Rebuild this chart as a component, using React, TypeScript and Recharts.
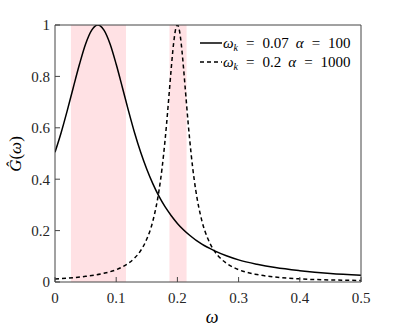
import { LineChart, Line, XAxis, YAxis, ReferenceArea } from 'recharts'

const solidW = [0, 0.01, 0.02, 0.03, 0.04, 0.05, 0.06, 0.07, 0.08, 0.09, 0.1, 0.11, 0.12, 0.13, 0.14, 0.15, 0.16, 0.17, 0.18, 0.19, 0.2, 0.22, 0.24, 0.26, 0.28, 0.3, 0.33, 0.36, 0.4, 0.45, 0.5]
const solidG = [0.505, 0.581, 0.667, 0.758, 0.847, 0.926, 0.98, 1, 0.98, 0.926, 0.847, 0.758, 0.667, 0.581, 0.505, 0.439, 0.382, 0.333, 0.292, 0.258, 0.228, 0.182, 0.147, 0.122, 0.102, 0.086, 0.069, 0.056, 0.044, 0.033, 0.026]

const dashW = [0, 0.05, 0.08, 0.1, 0.12, 0.13, 0.14, 0.15, 0.16, 0.17, 0.175, 0.18, 0.1825, 0.185, 0.1875, 0.19, 0.1925, 0.195, 0.1975, 0.2, 0.2025, 0.205, 0.2075, 0.21, 0.2125, 0.215, 0.2175, 0.22, 0.225, 0.23, 0.24, 0.25, 0.26, 0.27, 0.28, 0.3, 0.33, 0.36, 0.4, 0.45, 0.5]
const dashG = [0.012, 0.022, 0.034, 0.048, 0.073, 0.093, 0.122, 0.167, 0.238, 0.357, 0.444, 0.556, 0.62, 0.69, 0.762, 0.833, 0.899, 0.952, 0.988, 1, 0.988, 0.952, 0.899, 0.833, 0.762, 0.69, 0.62, 0.556, 0.444, 0.357, 0.238, 0.167, 0.122, 0.093, 0.073, 0.048, 0.029, 0.019, 0.012, 0.008, 0.006]

const bands = [
  [0.026, 0.116],
  [0.187, 0.215]
]

const xTicks = [0, 0.1, 0.2, 0.3, 0.4, 0.5]
const yTicks = [0, 0.2, 0.4, 0.6, 0.8, 1]

const series = [
  { name: 'solid', k: '0.07', a: '100', dash: undefined },
  { name: 'dash', k: '0.2', a: '1000', dash: '4 3' }
]

const solidData = solidW.map((w, i) => ({ w, g: solidG[i] }))
const dashData = dashW.map((w, i) => ({ w, g: dashG[i] }))

const FONT = "'Liberation Serif', 'Times New Roman', 'DejaVu Serif', serif"
const AXIS = '#444'
const tickStyle = { fontFamily: FONT, fontSize: 15, fill: '#262626' }

export default function App() {
  return (
    <div style={{ position: 'relative', width: 399, height: 332, background: '#fff', fontFamily: FONT }}>
      <style>{'body{margin:0}'}</style>
      <LineChart width={399} height={332} margin={{ top: 24, right: 37, bottom: 0, left: 0 }}>
        {bands.map(([a, b], i) => (
          <ReferenceArea key={i} x1={a} x2={b} y1={0} y2={1} fill="#ffe1e4" fillOpacity={1} stroke="none" />
        ))}
        <XAxis
          dataKey="w"
          type="number"
          domain={[0, 0.5]}
          ticks={xTicks}
          tickFormatter={(v) => String(v)}
          height={50}
          tickSize={-5}
          tickMargin={15}
          tick={tickStyle}
          stroke={AXIS}
          allowDataOverflow
        />
        <XAxis
          xAxisId="top"
          dataKey="w"
          orientation="top"
          type="number"
          domain={[0, 0.5]}
          ticks={xTicks}
          height={1}
          tick={false}
          tickSize={-5}
          stroke={AXIS}
          allowDataOverflow
        />
        <YAxis
          type="number"
          domain={[0, 1]}
          ticks={yTicks}
          tickFormatter={(v) => String(v)}
          width={55}
          tickSize={-5}
          tickMargin={10}
          tick={tickStyle}
          stroke={AXIS}
          allowDataOverflow
        />
        <YAxis
          yAxisId="right"
          orientation="right"
          type="number"
          domain={[0, 1]}
          ticks={yTicks}
          width={1}
          tick={false}
          tickSize={-5}
          stroke={AXIS}
          allowDataOverflow
        />
        <Line data={solidData} dataKey="g" type="monotone" stroke="#000" strokeWidth={1.5} dot={false} isAnimationActive={false} />
        <Line data={dashData} dataKey="g" type="monotone" stroke="#000" strokeWidth={1.5} strokeDasharray="4 3" dot={false} isAnimationActive={false} />
        {/* invisible copy so the top/right frame axes get drawn */}
        <Line xAxisId="top" yAxisId="right" data={solidData} dataKey="g" stroke="none" dot={false} activeDot={false} legendType="none" isAnimationActive={false} />
      </LineChart>
      <svg width={399} height={332} style={{ position: 'absolute', left: 0, top: 0, pointerEvents: 'none' }}>
        {series.map((s, i) => (
          <g key={s.name} transform={`translate(198, ${33 + i * 19})`}>
            <line x1={2} x2={24} y1={10} y2={10} stroke="#000" strokeWidth={1.5} strokeDasharray={s.dash} />
            <text x={25} y={15} fontFamily={FONT} fontSize={15} fill="#000">
              <tspan fontStyle="italic">ω</tspan>
              <tspan fontStyle="italic" fontSize={10} dy={3}>k</tspan>
              <tspan dy={-3} dx={8}>=</tspan>
              <tspan dx={8}>{s.k}</tspan>
              <tspan dx={7} fontStyle="italic">α</tspan>
              <tspan dx={8}>=</tspan>
              <tspan dx={8}>{s.a}</tspan>
            </text>
          </g>
        ))}
        <text x={212} y={323} textAnchor="middle" fontFamily={FONT} fontSize={18} fontStyle="italic" fill="#000">ω</text>
        <text transform="translate(21,154) rotate(-90)" textAnchor="middle" fontFamily={FONT} fontSize={17} fill="#000">
          <tspan fontStyle="italic">Ĝ</tspan>
          <tspan>(</tspan>
          <tspan fontStyle="italic">ω</tspan>
          <tspan>)</tspan>
        </text>
      </svg>
    </div>
  )
}
